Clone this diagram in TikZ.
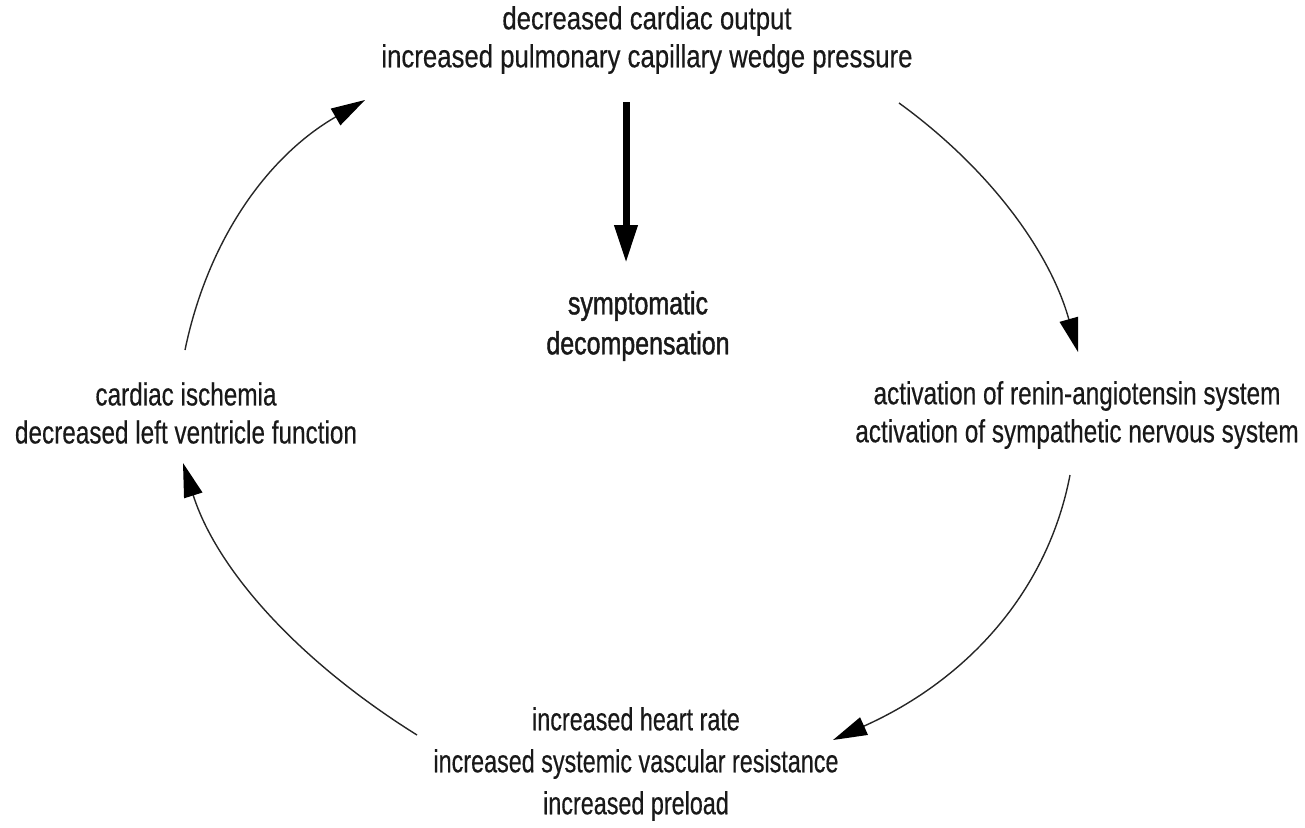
\documentclass[tikz,border=0pt]{standalone}
\usepackage{fontspec}
\setmainfont[FakeStretch=0.78,FakeBold=0.4]{Liberation Sans}
\newfontfamily\widefont[FakeStretch=0.805,FakeBold=0.4]{Liberation Sans}
\newfontfamily\midfont[FakeStretch=0.76,FakeBold=0.4]{Liberation Sans}
\newfontfamily\narrowfont[FakeStretch=0.73,FakeBold=0.4]{Liberation Sans}
\newfontfamily\heavyfont[FakeStretch=0.78,FakeBold=1.3]{Liberation Sans}
\usetikzlibrary{arrows.meta}
\begin{document}
\begin{tikzpicture}[x=1pt,y=-1pt,
  lbl/.style={align=center,inner sep=0pt,text=black!90,
    font=\fontsize{32}{38}\selectfont},
  boldlbl/.style={lbl,font=\fontsize{32}{40}\heavyfont},
  cycle/.style={line width=1.4pt,draw=black!85,
    -{Triangle[length=34pt,width=19pt,color=black]}},
  mainarrow/.style={line width=7pt,-{Triangle[length=38pt,width=22pt]}}]
\useasboundingbox (0,0) rectangle (1305,827);

\node[lbl,font=\fontsize{32}{38}\widefont] (top) at (647,40) {decreased cardiac output\\increased pulmonary capillary wedge pressure};
\node[boldlbl] (symp) at (638,326) {symptomatic\\decompensation};
\node[lbl,font=\fontsize{32}{38}\midfont] (right) at (1077,415) {activation of renin-angiotensin system\\activation of sympathetic nervous system};
\node[lbl,font=\fontsize{32}{42}\narrowfont] (bottom) at (636,764) {increased heart rate\\increased systemic vascular resistance\\increased preload};
\node[lbl,font=\fontsize{32}{38}\midfont] (left) at (186,413) {cardiac ischemia\\decreased left ventricle function};

% downward arrow to decompensation
\draw[mainarrow] ([shift={(-21,62)}]top.center) -- ([shift={(-12,-63)}]symp.center);

% the vicious cycle, clockwise
\draw[cycle] ([shift={(252,63)}]top.center)
  .. controls +(91,66) and +(-28,-100) .. ([shift={(1,-63)}]right.center);
\draw[cycle] ([shift={(-7,60)}]right.center)
  .. controls +(-22,115) and +(136,-61) .. ([shift={(197,-24)}]bottom.center);
\draw[cycle] ([shift={(-219,-29)}]bottom.center)
  .. controls +(-123,-77) and +(33,104) .. ([shift={(-3,50)}]left.center);
\draw[cycle] ([shift={(-1,-63)}]left.center)
  .. controls +(23,-111) and +(-97,56) .. ([shift={(-282,60)}]top.center);
\end{tikzpicture}
\end{document}
